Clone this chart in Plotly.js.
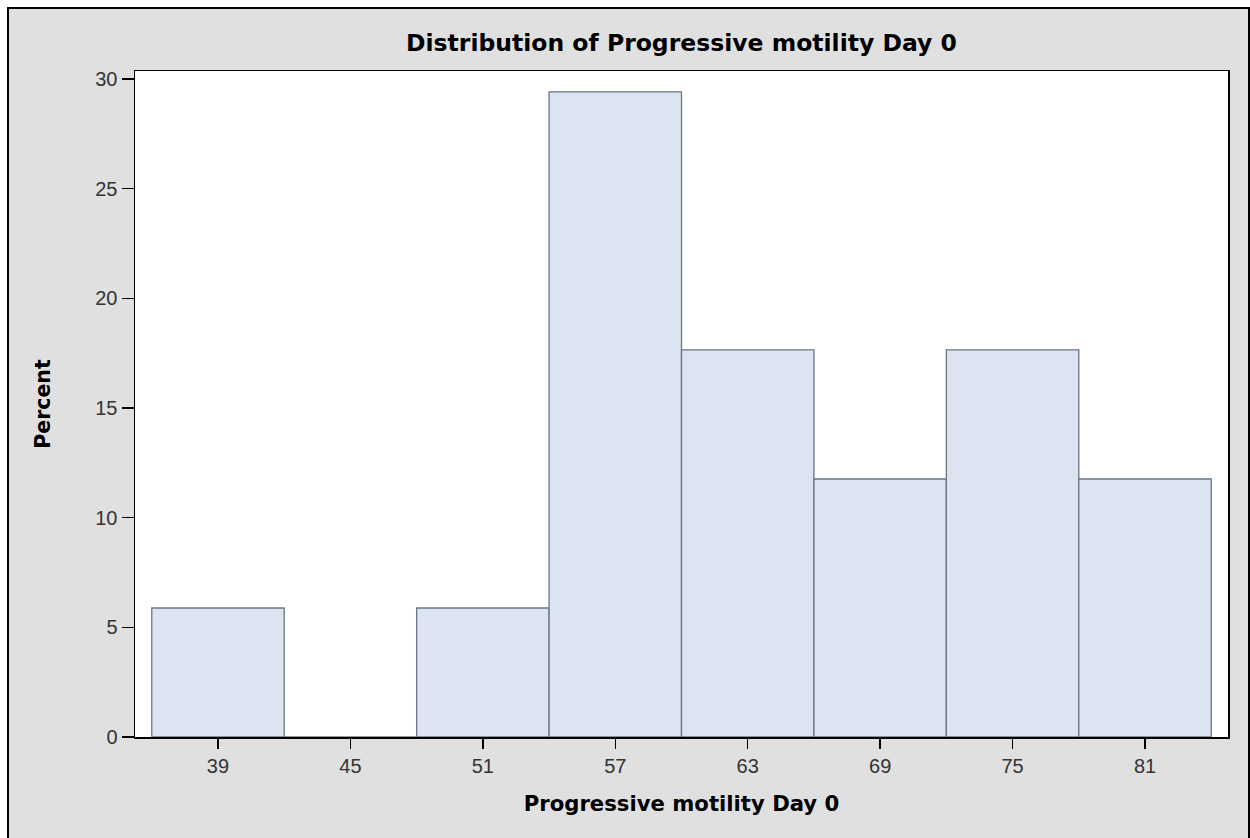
<!DOCTYPE html>
<html>
<head>
<meta charset="utf-8">
<script src="https://cdn.plot.ly/plotly-3.0.1.min.js"></script>
<style>
html,body{margin:0;padding:0;background:#ffffff;overflow:hidden;}
#wrap{position:absolute;left:7px;top:7px;border:2px solid #000;background:#e0e0e0;width:1239px;height:840px;}
#chart{width:1239px;height:840px;}
</style>
</head>
<body>
<div id="wrap"><div id="chart"></div></div>
<script>
const binMidpoints = [39, 45, 51, 57, 63, 69, 75, 81];
const percentValues = [5.88, 0, 5.88, 29.41, 17.65, 11.76, 17.65, 11.76];
const yTickValues = [0, 5, 10, 15, 20, 25, 30];

const trace = {
  type: 'bar',
  x: binMidpoints,
  y: percentValues,
  width: 6,
  marker: {color: '#dbe4f0', line: {color: '#6b7682', width: 1.3}},
  hoverinfo: 'x+y'
};

const layout = {
  width: 1239, height: 840,
  paper_bgcolor: '#e0e0e0',
  plot_bgcolor: '#ffffff',
  margin: {l: 126, r: 20, t: 62, b: 112},
  showlegend: false,
  title: {
    text: 'Distribution of Progressive motility Day 0',
    font: {family: 'DejaVu Sans', size: 23.5, color: '#000', weight: 'bold'},
    x: 0.5, xref: 'paper', xanchor: 'center',
    y: 1, yref: 'container', yanchor: 'top', pad: {t: 26}
  },
  xaxis: {
    range: [35.24, 84.76],
    tickvals: binMidpoints,
    ticktext: binMidpoints.map(String),
    ticks: 'outside', ticklen: 10, tickwidth: 1.5, tickcolor: '#000',
    showline: true, linecolor: '#000', linewidth: 1.5, mirror: true,
    showgrid: false, zeroline: false,
    tickfont: {family: 'Liberation Sans', size: 20, color: '#333'},
    title: {text: 'Progressive motility Day 0', font: {family: 'DejaVu Sans', size: 21.2, color: '#000', weight: 'bold'}, standoff: 20}
  },
  yaxis: {
    range: [0, 30.36],
    tickvals: yTickValues,
    ticks: 'outside', ticklen: 12, tickwidth: 1.5, tickcolor: '#000',
    showline: true, linecolor: '#000', linewidth: 1.5, mirror: true,
    showgrid: false, zeroline: false,
    tickfont: {family: 'Liberation Sans', size: 20, color: '#333'},
    title: {text: 'Percent', font: {family: 'DejaVu Sans', size: 20.5, color: '#000', weight: 'bold'}, standoff: 39}
  }
};

Plotly.newPlot('chart', [trace], layout, {displayModeBar: false, staticPlot: true});
</script>
</body>
</html>
